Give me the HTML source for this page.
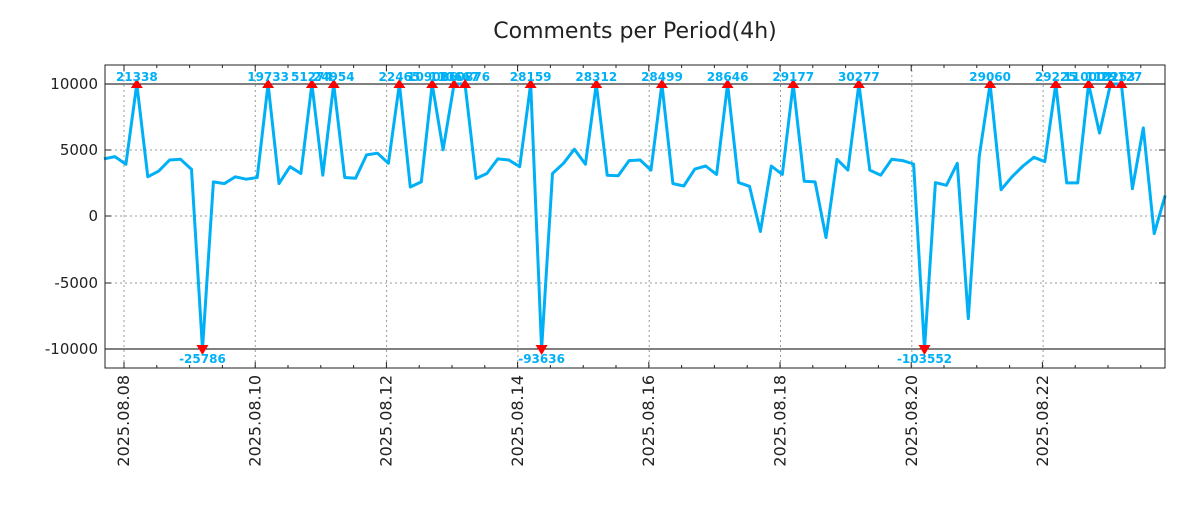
<!DOCTYPE html>
<html><head><meta charset="utf-8"><style>
body{margin:0;background:#fff}
svg text{font-family:"DejaVu Sans","Liberation Sans",sans-serif}
</style></head><body>
<svg id="s" width="1200" height="500" xmlns="http://www.w3.org/2000/svg">
<rect width="1200" height="500" fill="#fff"/>
<text x="635" y="38" font-size="22" text-anchor="middle" fill="#222">Comments per Period(4h)</text>
<g id="grid"></g>
<line x1="105" y1="84" x2="1165" y2="84" stroke="#000" stroke-width="1"/>
<line x1="105" y1="349" x2="1165" y2="349" stroke="#000" stroke-width="1"/>
<polyline id="ln" fill="none" stroke="#00b0f6" stroke-width="3" stroke-linejoin="round"/>
<g id="mk"></g>
<rect x="105" y="65" width="1060" height="303" fill="none" stroke="#222" stroke-width="1"/>
</svg>
<script>
var z=[297,290,313,75,350,333,300,298,328,860,365,370,350,357,352,75,370,320,340,75,345,75,352,354,285,280,310,75,380,365,75,270,75,75,355,340,297,300,320,75,860,340,310,268,313,75,345,347,302,300,
330,80,370,377,327,318,343,80,367,378,512,318,343,80,363,365,530,298,330,80,330,345,298,302,312,860,367,375,310,770,290,80,388,350,318,292,305,80,368,368,80,220,80,80,385,205,518,405];
var NS="http://www.w3.org/2000/svg",s=document.getElementById('s');
function el(t,a,p,txt){var e=document.createElementNS(NS,t);for(var k in a)e.setAttribute(k,a[k]);if(txt!==undefined)e.textContent=txt;(p||s).appendChild(e);return e;}
var pts=[],X=[],Y=[];
for(var i=0;i<z.length;i++){var x=104+i*10.94;var y=z[i]<=80?84:(z[i]>=860?349:84+(z[i]-75)*0.3376);X.push(x);Y.push(y);pts.push(x.toFixed(1)+","+y.toFixed(1));}
document.getElementById('ln').setAttribute('points',pts.join(' '));
var g=document.getElementById('grid');
var dates=["2025.08.08","2025.08.10","2025.08.12","2025.08.14","2025.08.16","2025.08.18","2025.08.20","2025.08.22"];
for(var d=0;d<8;d++){var x=124+d*131.3;
 el('line',{x1:x,y1:65,x2:x,y2:368,stroke:'#999','stroke-dasharray':'2,3','stroke-width':1},g);
 el('text',{x:0,y:0,'font-size':16,fill:'#222','text-anchor':'end',transform:'translate('+(x+5)+',375) rotate(-90)'},g,dates[d]);}
for(var x=124-32.8;x<1165;x+=32.8){if(x<105)continue;var L=( Math.abs(((x-124)/131.3)-Math.round((x-124)/131.3))<0.01)?6:3;
 el('line',{x1:x,y1:368,x2:x,y2:368-L,stroke:'#222'},g);el('line',{x1:x,y1:65,x2:x,y2:65+L,stroke:'#222'},g);}
var yt=[[10000,84],[5000,150],[0,216],[-5000,283],[-10000,349]];
yt.forEach(function(a){if(a[0]%10000!==0||a[0]==0)el('line',{x1:105,y1:a[1],x2:1165,y2:a[1],stroke:'#999','stroke-dasharray':'2,3'},g);
 el('line',{x1:105,y1:a[1],x2:111,y2:a[1],stroke:'#222'},g);el('line',{x1:1159,y1:a[1],x2:1165,y2:a[1],stroke:'#222'},g);
 el('text',{x:98,y:a[1]+5,'font-size':15,fill:'#222','text-anchor':'end'},g,String(a[0]));});
var mk=document.getElementById('mk');
var peaks={4:"21338",16:"19733",20:"51274",22:"24954",28:"22465",31:"109086",33:"110667",34:"110876",40:"28159",46:"28312",52:"28499",58:"28646",64:"29177",70:"30277",82:"29060",88:"29225",91:"110002",93:"110253",94:"29127"};
var tr={10:"-25786",41:"-93636",76:"-103552"};
for(var k in peaks){var x=X[k-1];el('polygon',{points:(x-6)+",88 "+(x+6)+",88 "+x+",79",fill:'#f00'},mk);
 el('text',{x:x,y:81,'font-size':12,'font-weight':'bold','font-family':'Liberation Mono,monospace',fill:'#00b0f6','text-anchor':'middle'},mk,peaks[k]);}
for(var k in tr){var x=X[k-1];el('polygon',{points:(x-6)+",345 "+(x+6)+",345 "+x+",355",fill:'#f00'},mk);
 el('text',{x:x,y:363,'font-size':12,'font-weight':'bold','font-family':'Liberation Mono,monospace',fill:'#00b0f6','text-anchor':'middle'},mk,tr[k]);}
</script>
</body></html>
